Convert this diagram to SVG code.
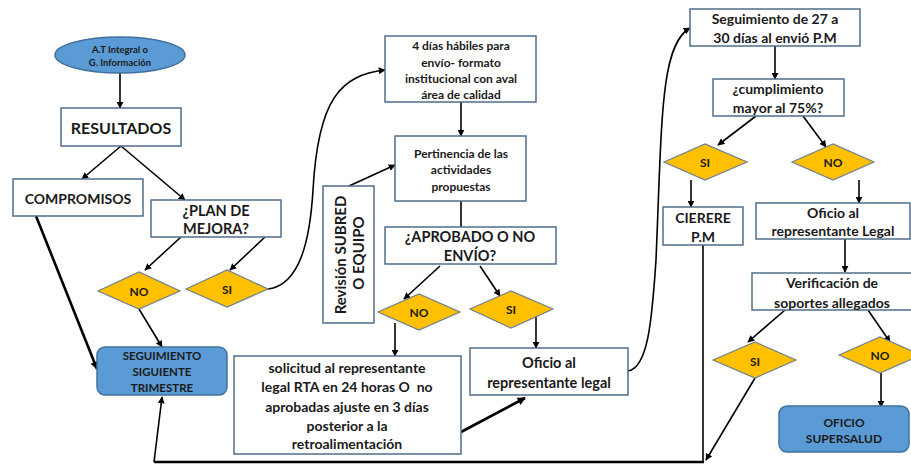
<svg xmlns="http://www.w3.org/2000/svg" width="911" height="464" viewBox="0 0 911 464">
<defs>
<style>
.box{fill:#fff;stroke:#4f6d8a;stroke-width:1.5}
.blue{fill:#5b9bd5;stroke:#41719c;stroke-width:1.5}
.dia{fill:#ffc000;stroke:#6f7f8f;stroke-width:1.2}
.t{font-family:Lato,"Open Sans","Liberation Sans",sans-serif;font-weight:bold;fill:#1a1a1a;text-anchor:middle;dominant-baseline:central}
.ln{fill:none;stroke:#000;stroke-width:1.6}
.th{fill:none;stroke:#000;stroke-width:2.6}
</style>
<marker id="a" viewBox="0 0 10 10" refX="9" refY="5" markerWidth="7" markerHeight="7" markerUnits="userSpaceOnUse" orient="auto"><path d="M0,0L10,5L0,10z" fill="#000"/></marker>
<marker id="b" viewBox="0 0 10 10" refX="9" refY="5" markerWidth="9" markerHeight="8" markerUnits="userSpaceOnUse" orient="auto"><path d="M0,0L10,5L0,10z" fill="#000"/></marker>
</defs>
<rect width="911" height="464" fill="#fff"/>
<g id="connectors">
<path class="ln" d="M120,73V108" marker-end="url(#a)"/>
<path class="ln" d="M121,146L82,179" marker-end="url(#a)"/>
<path class="ln" d="M121,146L185,200" marker-end="url(#a)"/>
<path class="th" d="M36,216L97,369" marker-end="url(#b)"/>
<path class="ln" d="M181,237L145,270" marker-end="url(#a)"/>
<path class="ln" d="M265,237L230,270" marker-end="url(#a)"/>
<path class="ln" d="M139,309L162,347" marker-end="url(#a)"/>
<path class="ln" d="M268,289C300,285 310,240 313,190C318,100 340,75 385,70" marker-end="url(#a)"/>
<path class="ln" d="M349,186L395,165" marker-end="url(#a)"/>
<path class="ln" d="M461,102V136" marker-end="url(#a)"/>
<path class="ln" d="M461,201V227"/>
<path class="ln" d="M440,266L404,299" marker-end="url(#a)"/>
<path class="ln" d="M480,266L500,296" marker-end="url(#a)"/>
<path class="ln" d="M395,323V356" marker-end="url(#a)"/>
<path class="ln" d="M536,317V348" marker-end="url(#a)"/>
<path class="th" d="M461,432L525,398" marker-end="url(#b)"/>
<path class="ln" d="M628,371C648,368 652,320 656,260C662,120 660,45 690,28" marker-end="url(#a)"/>
<path class="ln" d="M775,46V79" marker-end="url(#a)"/>
<path class="ln" d="M756,116L718,145" marker-end="url(#a)"/>
<path class="ln" d="M803,116L826,147" marker-end="url(#a)"/>
<path class="ln" d="M691,180V207" marker-end="url(#a)"/>
<path class="ln" d="M859,180V203" marker-end="url(#a)"/>
<path class="ln" d="M845,239V272" marker-end="url(#a)"/>
<path class="ln" d="M785,310L748,342" marker-end="url(#a)"/>
<path class="ln" d="M868,310L890,342" marker-end="url(#a)"/>
<path class="ln" d="M881,373V407" marker-end="url(#a)"/>
<path class="ln" d="M755,378L706,460" marker-end="url(#a)"/>
<path class="ln" d="M703,245V462"/>
<path class="th" d="M704,462H154"/>
<path class="ln" d="M154,462L162,397" marker-end="url(#a)"/>
</g>
<g id="n-at">
<ellipse class="blue" cx="120" cy="55" rx="65" ry="18"/>
<text class="t" x="120" y="49" font-size="9.5">A.T Integral o</text>
<text class="t" x="120" y="62" font-size="9.5">G. Información</text>
</g>
<g id="n-resultados">
<rect class="box" x="61" y="108" width="120" height="38"/>
<text class="t" x="121" y="127" font-size="16">RESULTADOS</text>
</g>
<g id="n-compromisos">
<rect class="box" x="13" y="179" width="130" height="37"/>
<text class="t" x="78" y="198" font-size="14">COMPROMISOS</text>
</g>
<g id="n-plan">
<rect class="box" x="151" y="200" width="130" height="37"/>
<text class="t" x="216" y="210" font-size="14.5">¿PLAN DE</text>
<text class="t" x="216" y="228" font-size="14.5">MEJORA?</text>
</g>
<g id="n-no1">
<path class="dia" d="M98,291L139,272L180,291L139,309z"/>
<text class="t" x="139" y="291" font-size="12">NO</text>
</g>
<g id="n-si1">
<path class="dia" d="M186,289L227,270L268,289L227,307z"/>
<text class="t" x="227" y="289" font-size="12">SI</text>
</g>
<g id="n-seguimiento">
<rect class="blue" x="97" y="347" width="130" height="48" rx="8"/>
<text class="t" x="162" y="355" font-size="11.5">SEGUIMIENTO</text>
<text class="t" x="162" y="371" font-size="11.5">SIGUIENTE</text>
<text class="t" x="162" y="387" font-size="11.5">TRIMESTRE</text>
</g>
<g id="n-revision">
<rect class="box" x="323" y="186" width="51" height="137"/>
<text class="t" font-size="15" transform="translate(340,255) rotate(-90)">Revisión SUBRED</text>
<text class="t" font-size="15" transform="translate(358,253) rotate(-90)">O EQUIPO</text>
</g>
<g id="n-4dias">
<rect class="box" x="385" y="36" width="151" height="66"/>
<text class="t" x="461" y="45" font-size="12">4 días hábiles para</text>
<text class="t" x="461" y="62" font-size="12">envío- formato</text>
<text class="t" x="461" y="78" font-size="12">institucional con aval</text>
<text class="t" x="461" y="94" font-size="12">área de calidad</text>
</g>
<g id="n-pertinencia">
<rect class="box" x="395" y="136" width="131" height="65"/>
<text class="t" x="461" y="153" font-size="12">Pertinencia de las</text>
<text class="t" x="461" y="169" font-size="12">actividades</text>
<text class="t" x="461" y="186" font-size="12">propuestas</text>
</g>
<g id="n-aprobado">
<rect class="box" x="385" y="227" width="171" height="37"/>
<text class="t" x="470" y="236" font-size="14.5">¿APROBADO O NO</text>
<text class="t" x="470" y="255" font-size="14.5">ENVÍO?</text>
</g>
<g id="n-no2">
<path class="dia" d="M378,312L419,294L460,312L419,330z"/>
<text class="t" x="419" y="312" font-size="12">NO</text>
</g>
<g id="n-si2">
<path class="dia" d="M470,309L511,291L553,309L511,328z"/>
<text class="t" x="511" y="309" font-size="12">SI</text>
</g>
<g id="n-solicitud">
<rect class="box" x="234" y="356" width="227" height="98"/>
<text class="t" x="347" y="367" font-size="14">solicitud al representante</text>
<text class="t" x="347" y="386" font-size="14" xml:space="preserve">legal RTA en 24 horas O  no</text>
<text class="t" x="347" y="406" font-size="14">aprobadas ajuste en 3 días</text>
<text class="t" x="347" y="425" font-size="14">posterior a la</text>
<text class="t" x="347" y="443" font-size="14">retroalimentación</text>
</g>
<g id="n-oficio1">
<rect class="box" x="470" y="348" width="158" height="47"/>
<text class="t" x="549" y="362" font-size="14.5">Oficio al</text>
<text class="t" x="549" y="382" font-size="14.5">representante legal</text>
</g>
<g id="n-seg27">
<rect class="box" x="690" y="9" width="170" height="37"/>
<text class="t" x="775" y="18" font-size="14">Seguimiento de 27 a</text>
<text class="t" x="775" y="37" font-size="14">30 días al envió P.M</text>
</g>
<g id="n-cumplimiento">
<rect class="box" x="713" y="79" width="131" height="37"/>
<text class="t" x="778" y="88" font-size="14">¿cumplimiento</text>
<text class="t" x="778" y="107" font-size="14">mayor al 75%?</text>
</g>
<g id="n-si3">
<path class="dia" d="M664,162L705,144L747,162L705,180z"/>
<text class="t" x="705" y="162" font-size="12">SI</text>
</g>
<g id="n-no3">
<path class="dia" d="M792,162L833,144L874,162L833,180z"/>
<text class="t" x="833" y="162" font-size="12">NO</text>
</g>
<g id="n-cierere">
<rect class="box" x="663" y="207" width="80" height="38"/>
<text class="t" x="703" y="217" font-size="14">CIERERE</text>
<text class="t" x="703" y="236" font-size="14">P.M</text>
</g>
<g id="n-oficio2">
<rect class="box" x="756" y="203" width="154" height="36"/>
<text class="t" x="833" y="212" font-size="14">Oficio al</text>
<text class="t" x="833" y="230" font-size="14">representante Legal</text>
</g>
<g id="n-verificacion">
<rect class="box" x="752" y="273" width="160" height="37"/>
<text class="t" x="832" y="282" font-size="14">Verificación de</text>
<text class="t" x="832" y="302" font-size="14">soportes allegados</text>
</g>
<g id="n-si4">
<path class="dia" d="M713,360L755,342L796,360L755,378z"/>
<text class="t" x="755" y="361" font-size="12">SI</text>
</g>
<g id="n-no4">
<path class="dia" d="M839,355L880,337L921,355L880,373z"/>
<text class="t" x="880" y="355" font-size="12">NO</text>
</g>
<g id="n-supersalud">
<rect class="blue" x="779" y="406" width="130" height="46" rx="8"/>
<text class="t" x="844" y="422" font-size="12">OFICIO</text>
<text class="t" x="844" y="438" font-size="12">SUPERSALUD</text>
</g>
</svg>
